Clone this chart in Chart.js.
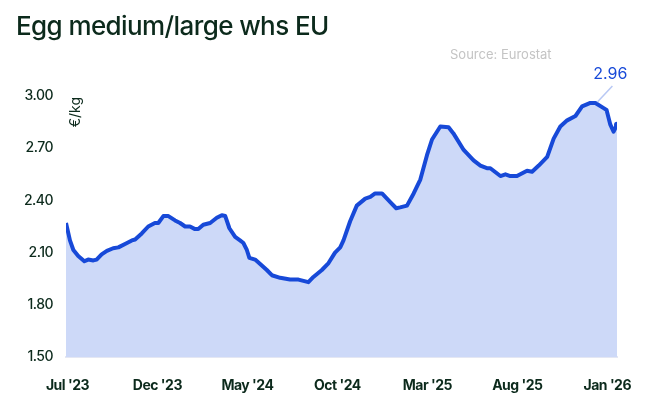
<!DOCTYPE html>
<html>
<head>
<meta charset="utf-8">
<script src="https://cdn.jsdelivr.net/npm/chart.js@4"></script>
<style>
  html, body { margin: 0; padding: 0; background: #ffffff; }
  #wrap { position: relative; width: 645px; height: 397px; }
  #title { position: absolute; left: 16px; top: 10px; font-family: Inter, sans-serif; font-weight: 500; font-size: 26px; letter-spacing: -0.6px; color: #0c2a1c; white-space: nowrap; }
  #source { position: absolute; left: 450px; top: 46px; font-family: Inter, sans-serif; font-size: 13px; color: #c4c4c4; white-space: nowrap; }
  canvas { position: absolute; left: 0; top: 0; }
</style>
</head>
<body>
<div id="wrap">
  <canvas id="c" width="645" height="397"></canvas>
  <div id="title">Egg medium/large whs EU</div>
  <div id="source">Source: Eurostat</div>
</div>
<script>
// Months since Jul 2023 (x) and price in €/kg (y)
const months = [-0.08, 0.14, 0.33, 0.60, 0.94, 1.15, 1.44, 1.62, 1.90, 2.19, 2.54, 2.83, 3.20, 3.58, 3.76, 4.13, 4.49, 4.86, 5.05, 5.33, 5.61, 5.98, 6.26, 6.54, 6.81, 7.09, 7.27, 7.55, 7.93, 8.30, 8.58, 8.77, 9.00, 9.32, 9.59, 9.78, 9.97, 10.11, 10.43, 10.71, 11.08, 11.36, 11.82, 12.37, 12.84, 13.39, 13.67, 14.14, 14.51, 14.87, 15.16, 15.34, 15.71, 16.08, 16.55, 16.83, 17.10, 17.48, 17.94, 18.27, 18.49, 18.87, 19.24, 19.61, 19.98, 20.26, 20.72, 21.18, 21.45, 22.02, 22.57, 22.95, 23.31, 23.50, 24.06, 24.34, 24.61, 24.98, 25.54, 25.82, 26.19, 26.66, 27.02, 27.39, 27.77, 28.23, 28.60, 29.06, 29.34, 29.80, 29.96, 30.17, 30.35, 30.54];
const prices = [2.27, 2.17, 2.115, 2.08, 2.05, 2.06, 2.055, 2.06, 2.09, 2.11, 2.125, 2.13, 2.15, 2.17, 2.175, 2.21, 2.25, 2.27, 2.27, 2.31, 2.31, 2.285, 2.27, 2.25, 2.25, 2.235, 2.235, 2.26, 2.27, 2.30, 2.315, 2.31, 2.24, 2.19, 2.17, 2.155, 2.115, 2.07, 2.06, 2.035, 2.00, 1.97, 1.955, 1.945, 1.945, 1.93, 1.96, 2.00, 2.04, 2.10, 2.13, 2.17, 2.28, 2.37, 2.41, 2.42, 2.44, 2.44, 2.39, 2.355, 2.36, 2.37, 2.44, 2.52, 2.66, 2.75, 2.825, 2.82, 2.785, 2.69, 2.63, 2.60, 2.585, 2.585, 2.54, 2.55, 2.54, 2.54, 2.57, 2.565, 2.60, 2.65, 2.755, 2.825, 2.86, 2.885, 2.94, 2.96, 2.96, 2.93, 2.92, 2.835, 2.795, 2.835];
const tickMonths = [0, 5, 10, 15, 20, 25, 30];
const tickLabels = ["Jul '23", "Dec '23", "May '24", "Oct '24", "Mar '25", "Aug '25", "Jan '26"];
const yTicks = [1.5, 1.8, 2.1, 2.4, 2.7, 3.0];
const peakLabel = "2.96";

const LINE = '#1749d8';
const FILL = '#cdd9f8';
const INK = '#0c2a1c';

const points = months.map((m, i) => ({ x: m, y: prices[i] }));

const extras = {
  id: 'extras',
  beforeDraw(chart) {
    chart.ctx.letterSpacing = '-0.5px';
  },
  afterDatasetsDraw(chart) {
    const { ctx, chartArea, scales } = chart;
    const xs = scales.x, ys = scales.y;
    // unit label
    ctx.save();
    ctx.letterSpacing = '0px';
    ctx.translate(chartArea.left + 10, chartArea.top + 1);
    ctx.rotate(-Math.PI / 2);
    ctx.font = '14px Inter, sans-serif';
    ctx.fillStyle = INK;
    ctx.textAlign = 'right';
    ctx.textBaseline = 'middle';
    ctx.fillText('€/kg', 0, 0);
    ctx.restore();
    // peak annotation
    let idx = 0;
    prices.forEach((p, i) => { if (p >= prices[idx]) idx = i; });
    const px = xs.getPixelForValue(months[idx]);
    const py = ys.getPixelForValue(prices[idx]);
    ctx.save();
    ctx.letterSpacing = '0px';
    ctx.strokeStyle = '#b8c8f4';
    ctx.lineWidth = 1.5;
    ctx.beginPath();
    ctx.moveTo(px + 2, py - 1);
    ctx.lineTo(px + 17, py - 17);
    ctx.stroke();
    ctx.font = '16px Inter, sans-serif';
    ctx.fillStyle = LINE;
    ctx.textAlign = 'center';
    ctx.textBaseline = 'middle';
    ctx.fillText(peakLabel, px + 15, py - 29);
    ctx.restore();
  }
};

new Chart(document.getElementById('c'), {
  type: 'line',
  data: {
    datasets: [{
      data: points,
      borderColor: LINE,
      backgroundColor: FILL,
      borderWidth: 4,
      fill: 'start',
      tension: 0,
      borderJoinStyle: 'round',
      pointRadius: (c) => c.dataIndex === points.length - 1 ? 3 : 0,
      pointBackgroundColor: LINE,
      pointBorderColor: LINE,
      pointBorderWidth: 0
    }]
  },
  options: {
    responsive: false,
    animation: false,
    layout: { padding: { left: 0, right: 28, top: 96, bottom: 0 } },
    plugins: { legend: { display: false }, tooltip: { enabled: false } },
    scales: {
      x: {
        type: 'linear',
        min: -0.08,
        max: 30.54,
        afterBuildTicks: (s) => { s.ticks = tickMonths.map(v => ({ value: v })); },
        afterFit: (s) => { s.paddingLeft = 0; s.paddingRight = 0; s.height = 40; },
        grid: { display: false },
        border: { display: true, color: '#e4e7f3', width: 2 },
        ticks: {
          padding: 12,
          maxRotation: 0,
          autoSkip: false,
          color: INK,
          font: { family: 'Inter, sans-serif', size: 14, weight: 700 },
          callback: (v) => { const i = tickMonths.indexOf(v); return i >= 0 ? tickLabels[i] : ''; }
        }
      },
      y: {
        min: 1.5,
        max: 3.0,
        afterBuildTicks: (s) => { s.ticks = yTicks.map(v => ({ value: v })); },
        afterFit: (s) => { s.width = 66; s.paddingTop = 0; s.paddingBottom = 0; },
        grid: { display: false, drawTicks: false },
        border: { display: false },
        ticks: {
          padding: 13,
          color: INK,
          font: { family: 'Inter, sans-serif', size: 14, weight: 500 },
          callback: (v) => v.toFixed(2)
        }
      }
    }
  },
  plugins: [extras]
});
</script>
</body>
</html>
